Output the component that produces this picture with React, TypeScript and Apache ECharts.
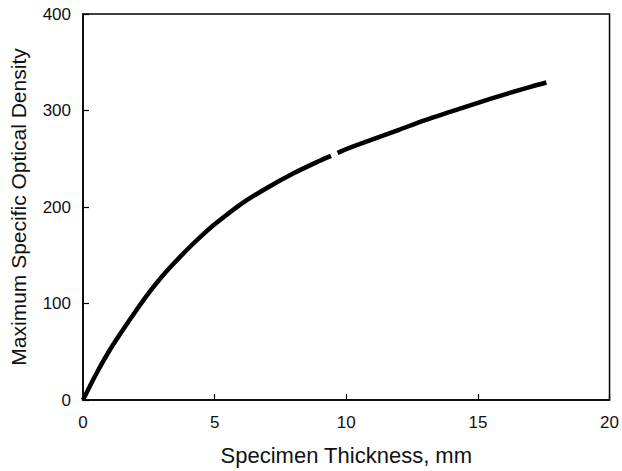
import React, { useEffect, useRef } from "react";
import * as echarts from "echarts";

const thickness = [0, 0.5, 1, 1.5, 2, 2.5, 3, 3.5, 4, 4.5, 5, 6, 7, 8, 9, 9.42, 9.55, 9.67, 10, 11, 12, 13, 14, 15, 16, 17, 17.6];
const density: (number | string)[] = [0, 27, 51, 72, 92, 111, 128, 143, 157, 170, 182, 203, 220, 235, 248, 253, "-", 256, 260, 270, 280, 290, 299, 308, 316.5, 324.5, 329];
const xTicks = [0, 5, 10, 15, 20];
const yTicks = [0, 100, 200, 300, 400];

export default function App() {
  const ref = useRef<HTMLDivElement>(null);
  useEffect(() => {
    if (!ref.current) return;
    const chart = echarts.init(ref.current, null, { renderer: "svg" });
    const font = "Liberation Sans, Arial, sans-serif";
    chart.setOption({
      animation: false,
      grid: {
        left: 83, right: 10, top: 14, bottom: 68,
        show: true, borderColor: "#000", borderWidth: 1.5,
      },
      xAxis: {
        type: "value",
        min: xTicks[0], max: xTicks[xTicks.length - 1], interval: 5,
        name: "Specimen Thickness, mm",
        nameLocation: "middle", nameGap: 44,
        nameTextStyle: { fontFamily: font, fontSize: 22, color: "#111" },
        axisLine: { lineStyle: { color: "#000", width: 1.5 } },
        axisTick: { inside: true, length: 6, lineStyle: { color: "#000", width: 1.2 } },
        axisLabel: { fontFamily: font, fontSize: 17, color: "#111", margin: 14 },
        splitLine: { show: false },
      },
      yAxis: {
        type: "value",
        min: yTicks[0], max: yTicks[yTicks.length - 1], interval: 100,
        name: "Maximum Specific Optical Density",
        nameLocation: "middle", nameGap: 54,
        nameTextStyle: { fontFamily: font, fontSize: 21, color: "#111" },
        axisLine: { lineStyle: { color: "#000", width: 1.5 } },
        axisTick: { inside: true, length: 6, lineStyle: { color: "#000", width: 1.2 } },
        axisLabel: { fontFamily: font, fontSize: 17, color: "#111", margin: 12 },
        splitLine: { show: false },
      },
      series: [
        {
          type: "line",
          data: thickness.map((x, i) => [x, density[i]]),
          smooth: 0.3,
          showSymbol: false,
          connectNulls: false,
          lineStyle: { color: "#000", width: 4.5, cap: "butt" },
        },
      ],
    });
    return () => chart.dispose();
  }, []);
  return <div ref={ref} style={{ width: 622, height: 471, position: "absolute", left: 0, top: 0 }} />;
}
